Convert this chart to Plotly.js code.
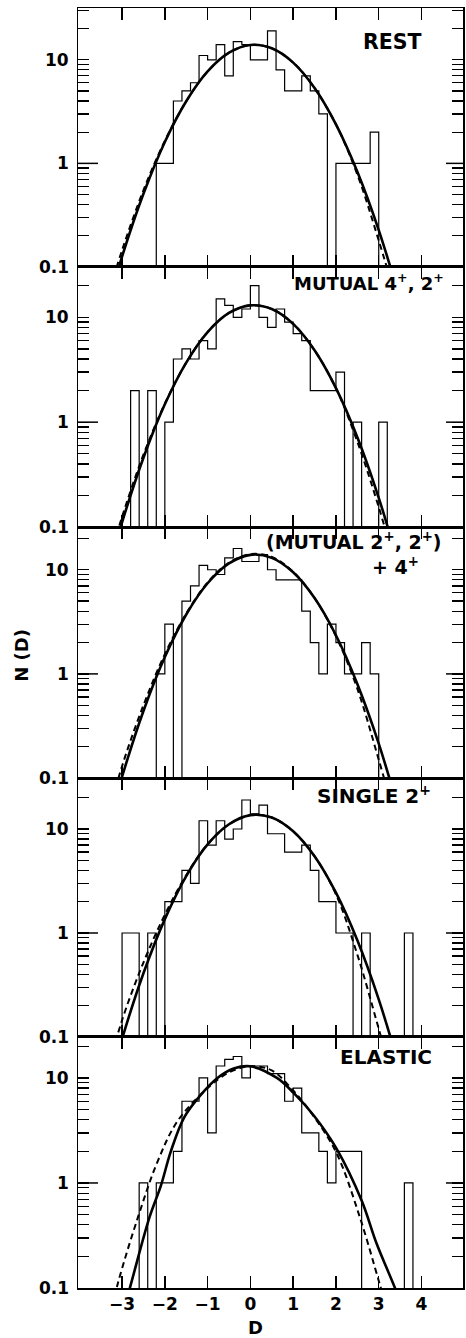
<!DOCTYPE html>
<html>
<head>
<meta charset="utf-8">
<script src="https://cdn.plot.ly/plotly-3.0.1.min.js"></script>
<style>html,body{margin:0;padding:0;background:#fff;}#chart{width:466px;height:1338px;}</style>
</head>
<body>
<div id="chart"></div>
<script>
// ---------------- data ----------------
const panelNames = ['REST', 'MUTUAL 4<sup>+</sup>, 2<sup>+</sup>', '(MUTUAL 2<sup>+</sup>, 2<sup>+</sup>)', 'SINGLE 2<sup>+</sup>', 'ELASTIC'];
const binWidth = 0.2;
const binStart = [-2.2, -2.8, -2.2, -3.0, -2.6];
const countsRest     = [1,1,4,5,6,11,10,14,7,15,14,10,10,19,8,5,5,7,5,3,0,1,1,1,1,2];
const countsMutual42 = [2,0,2,0,1,4,5,4,6,5,15,13,10,12,20,10,8,12,9,7,6,2,2,2,3,0,1,0,0,1];
const countsMutual22 = [1,3,0,5,7,11,10,9,13,16,12,12,14,10,8,8,8,4,2,1,3,2,1,1,2,1];
const countsSingle2  = [1,1,0,1,0,2,2,4,3,12,7,12,8,10,19,14,17,9,9,6,6,7,4,2,2,1,1,0,1,0,0,0,0,1];
const countsElastic  = [1,0,1,1,2,6,6,10,3,13,15,16,10,13,13,11,11,6,8,3,3,2,1,2,2,2,0,0,0,0,0,1];

// fitted curves
const curveD = [-3.4,-3.0,-2.5,-2.0,-1.5,-1.0,-0.5,0,0.5,1.0,1.5,2.0,2.5,3.0,3.5];
const solidRest     = [0.0345,0.126,0.508,1.61,3.98,7.72,11.7,13.9,12.9,9.39,5.34,2.38,0.83,0.227,0.048];
const dashedRest    = [0.042,0.145,0.55,1.65,3.98,7.72,11.7,13.9,12.9,9.39,5.34,2.38,0.78,0.18,0.036];
const solidMutual42 = [0.030,0.111,0.458,1.48,3.70,7.23,11.0,13.0,12.0,8.65,4.84,2.11,0.718,0.190,0.039];
const dashedMutual42= [0.036,0.125,0.49,1.50,3.70,7.23,11.0,13.0,12.0,8.65,4.84,2.11,0.65,0.155,0.030];
const solidMutual22 = [0.027,0.103,0.44,1.45,3.72,7.42,11.5,13.9,13.0,9.45,5.35,2.35,0.80,0.214,0.044];
const dashedMutual22= [0.034,0.13,0.50,1.55,3.80,7.55,11.7,14.1,13.3,9.55,5.35,2.30,0.72,0.15,0.028];
const solidSingle2  = [0.025,0.096,0.41,1.36,3.53,7.11,11.1,13.6,12.9,9.52,5.47,2.44,0.85,0.23,0.048];
const dashedSingle2 = [0.038,0.145,0.52,1.50,3.60,7.15,11.1,13.6,12.9,9.52,5.47,2.35,0.62,0.12,0.022];
const solidElasticD = [-3.05,-2.79,-2.36,-2.09,-1.86,-1.55,-1.16,-0.77,-0.39,0,0.62,1.01,1.5,2.02,2.6,2.95,3.41,3.6];
const solidElastic  = [0.045,0.11,0.47,0.95,2.0,4.2,6.9,10.0,12.3,12.9,10.0,7.2,4.3,2.1,0.68,0.265,0.093,0.056];
const dashedElasticD= [-3.4,-3.1,-2.63,-2.17,-1.7,-1.0,-0.5,0,0.5,1.0,1.5,2.02,2.56,3.02,3.3];
const dashedElastic = [0.035,0.11,0.47,1.6,3.9,8.0,11.3,12.9,11.8,7.6,4.2,1.9,0.47,0.11,0.045];

const xTicks = [-3,-2,-1,0,1,2,3,4];
const yMajor = [0.1,1,10];
const yMajorText = ['0.1','1','10'];
const yMinor = [0.2,0.3,0.4,0.5,0.6,0.7,0.8,0.9,2,3,4,5,6,7,8,9,20,30];

// ---------------- build ----------------
const counts = [countsRest, countsMutual42, countsMutual22, countsSingle2, countsElastic];
const solids = [[curveD, solidRest],[curveD, solidMutual42],[curveD, solidMutual22],[curveD, solidSingle2],[solidElasticD, solidElastic]];
const dashes = [[curveD, dashedRest],[curveD, dashedMutual42],[curveD, dashedMutual22],[curveD, dashedSingle2],[dashedElasticD, dashedElastic]];
const FLOOR = 0.01;

const domains = [[0.7977,1],[0.5945,0.7977],[0.3984,0.5945],[0.1961,0.3984],[0,0.1961]];
const yTops = [1.50,1.48,1.41,1.49,1.39];
const FONT = 'DejaVu Sans, Liberation Sans, Arial, sans-serif';
const PLOT_W = 466 - 78 - 3;

const traces = [];
const layout = {
  width: 466, height: 1338,
  margin: {l: 78, r: 3, t: 8, b: 50},
  paper_bgcolor: '#fff', plot_bgcolor: '#fff',
  showlegend: false,
  font: {family: FONT, color: '#000'},
  annotations: [],
  shapes: []
};
const allYTicks = yMajor.concat(yMinor).sort((a, b) => a - b);
const labelFont = (s) => ({family: FONT, size: s, weight: 700, color: '#000'});

for (let k = 0; k < 5; k++) {
  const sx = k === 0 ? '' : String(k + 1);
  const xa = 'x' + sx, ya = 'y' + sx;
  // histogram
  const hx = [binStart[k]], hy = [FLOOR];
  counts[k].forEach((c, i) => { hx.push(binStart[k] + i * binWidth); hy.push(c > 0 ? c : FLOOR); });
  hx.push(binStart[k] + counts[k].length * binWidth); hy.push(FLOOR);
  traces.push({x: hx, y: hy, xaxis: xa, yaxis: ya, type: 'scatter', mode: 'lines',
    line: {shape: 'hv', color: '#000', width: 1.2}, hoverinfo: 'skip'});
  traces.push({x: dashes[k][0], y: dashes[k][1], xaxis: xa, yaxis: ya, type: 'scatter', mode: 'lines',
    line: {shape: 'spline', color: '#000', width: 2, dash: '6px,4px'}, hoverinfo: 'skip'});
  traces.push({x: solids[k][0], y: solids[k][1], xaxis: xa, yaxis: ya, type: 'scatter', mode: 'lines',
    line: {shape: 'spline', color: '#000', width: 2.6}, hoverinfo: 'skip'});

  layout['xaxis' + sx] = {
    anchor: ya, domain: [0, 1], range: [-4.03, 4.97],
    showline: true, linewidth: 1.5, linecolor: '#000', mirror: 'ticks',
    ticks: 'inside', ticklen: 12, tickwidth: 1.5, tickcolor: '#000',
    tickmode: 'array', tickvals: xTicks,
    showgrid: false, zeroline: false,
    showticklabels: k === 4,
    tickfont: labelFont(17)
  };
  if (k > 0) layout['xaxis' + sx].matches = 'x';
  layout['yaxis' + sx] = {
    anchor: xa, domain: domains[k], type: 'log', range: [-1, yTops[k]],
    showline: true, linewidth: 1.5, linecolor: '#000', mirror: 'ticks',
    ticks: 'inside', ticklen: 11, tickwidth: 1.3, tickcolor: '#000',
    tickmode: 'array', tickvals: allYTicks, showticklabels: false,
    showgrid: false, zeroline: false
  };
  // longer ticks at the labelled decades (left and right), and their labels
  yMajor.forEach((v, j) => {
    const ly = Math.log10(v);
    if (j > 0) {
      layout.shapes.push({type: 'line', xref: xa + ' domain', yref: ya, x0: 0, x1: 20 / PLOT_W, y0: ly, y1: ly,
        line: {color: '#000', width: 1.5}});
      layout.shapes.push({type: 'line', xref: xa + ' domain', yref: ya, x0: 1 - 17 / PLOT_W, x1: 1, y0: ly, y1: ly,
        line: {color: '#000', width: 1.5}});
    }
    layout.annotations.push({text: yMajorText[j], xref: 'paper', yref: ya, x: -7 / PLOT_W, y: ly,
      xanchor: 'right', yanchor: 'middle', showarrow: false, font: labelFont(17)});
  });
}

const labelPos = [[0.899, 0.9734], [0.956, 0.786], [0.951, 0.5836], [0.922, 0.385], [0.925, 0.1805]];
const labelSize = [20.5, 18, 19, 20, 20];
panelNames.forEach((t, k) => {
  layout.annotations.push({text: t, xref: 'paper', yref: 'paper', x: labelPos[k][0], y: labelPos[k][1],
    xanchor: 'right', yanchor: 'middle', showarrow: false, font: labelFont(labelSize[k])});
});
layout.annotations.push({text: '+ 4<sup>+</sup>', xref: 'paper', yref: 'paper', x: 0.891, y: 0.564,
  xanchor: 'right', yanchor: 'middle', showarrow: false, font: labelFont(19)});
layout.annotations.push({text: 'N (D)', xref: 'paper', yref: 'paper', x: -0.145, y: 0.494, textangle: -90,
  xanchor: 'center', yanchor: 'middle', showarrow: false, font: labelFont(18)});
layout.annotations.push({text: 'D', xref: 'paper', yref: 'paper', x: 0.46, y: -0.0305,
  xanchor: 'center', yanchor: 'middle', showarrow: false, font: labelFont(18)});

Plotly.newPlot('chart', traces, layout, {staticPlot: true, displayModeBar: false});
</script>
</body>
</html>
